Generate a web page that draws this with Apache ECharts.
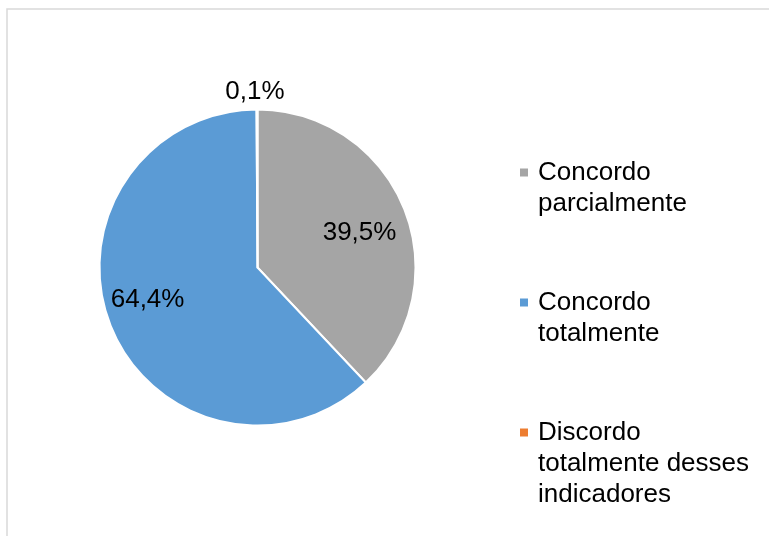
<!DOCTYPE html>
<html>
<head>
<meta charset="utf-8">
<script src="https://cdn.jsdelivr.net/npm/echarts@6/dist/echarts.min.js"></script>
<style>
  html, body { margin: 0; padding: 0; background: #ffffff; }
  #chart { width: 769px; height: 536px; }
</style>
</head>
<body>
<div id="chart"></div>
<script>
// Survey answers and their shares (%)
const categories = ['Concordo parcialmente', 'Concordo totalmente', 'Discordo totalmente desses indicadores'];
const legendLabels = ['Concordo\nparcialmente', 'Concordo\ntotalmente', 'Discordo\ntotalmente desses\nindicadores'];
const values = [39.5, 64.4, 0.1];
const colors = ['#a5a5a5', '#5b9bd5', '#ed7d31'];

const FONT = '"Liberation Sans", Arial, sans-serif';
const center = [257.5, 267.5];

const fmt = v => v.toFixed(1).replace('.', ',') + '%';

const pieData = categories.map((name, i) => ({ name, value: values[i] }));

// Label rings: transparent copies of the pie that only carry the value labels
function labelRing(showIdx, offsets) {
  return categories.map((name, i) => ({
    name,
    value: values[i],
    label: { show: showIdx.includes(i), offset: (offsets && offsets[i]) || [0, 0] }
  }));
}

const labelCommon = {
  position: 'inside',
  color: '#000',
  fontFamily: FONT,
  fontSize: 26,
  formatter: p => fmt(p.value)
};

// Blank lines before/after each legend text keep the marker level with its first line
const legendBlank = [[2, 1], [1, 0], [2, 0]];
function legendText(name) {
  const i = categories.indexOf(name);
  const [top, bottom] = legendBlank[i];
  return '\n'.repeat(top) + legendLabels[i] + '\n'.repeat(bottom);
}

const chart = echarts.init(document.getElementById('chart'), null, { renderer: 'canvas' });
chart.setOption({
  backgroundColor: '#ffffff',
  animation: false,
  color: colors,
  graphic: [{
    type: 'rect',
    shape: { x: 7, y: 9, width: 900, height: 700 },
    style: { fill: 'none', stroke: '#d9d9d9', lineWidth: 1.5 },
    silent: true
  }],
  legend: {
    orient: 'vertical',
    left: 520,
    top: 95,
    padding: 0,
    itemGap: 6,
    itemWidth: 8,
    itemHeight: 8,
    icon: 'rect',
    selectedMode: false,
    itemStyle: { borderWidth: 0 },
    formatter: legendText,
    textStyle: { color: '#000', fontFamily: FONT, fontSize: 26, lineHeight: 31, padding: [0, 0, 0, 5] },
    data: categories
  },
  series: [
    {
      type: 'pie',
      center,
      radius: 158,
      startAngle: 90,
      clockwise: true,
      silent: true,
      label: { show: false },
      labelLine: { show: false },
      itemStyle: { borderColor: '#ffffff', borderWidth: 2 },
      emphasis: { disabled: true },
      data: pieData
    },
    {
      type: 'pie',
      center,
      radius: [62, 158],
      startAngle: 90,
      clockwise: true,
      silent: true,
      z: 3,
      itemStyle: { color: 'transparent', borderWidth: 0 },
      label: labelCommon,
      labelLine: { show: false },
      emphasis: { disabled: true },
      data: labelRing([0, 1], [[-3, 7], [-5, -10]])
    },
    {
      type: 'pie',
      center,
      radius: [168, 185],
      startAngle: 90,
      clockwise: true,
      silent: true,
      z: 3,
      itemStyle: { color: 'transparent', borderWidth: 0 },
      label: labelCommon,
      labelLine: { show: false },
      emphasis: { disabled: true },
      data: labelRing([2], [null, null, [-2, 4]])
    }
  ]
});
</script>
</body>
</html>
